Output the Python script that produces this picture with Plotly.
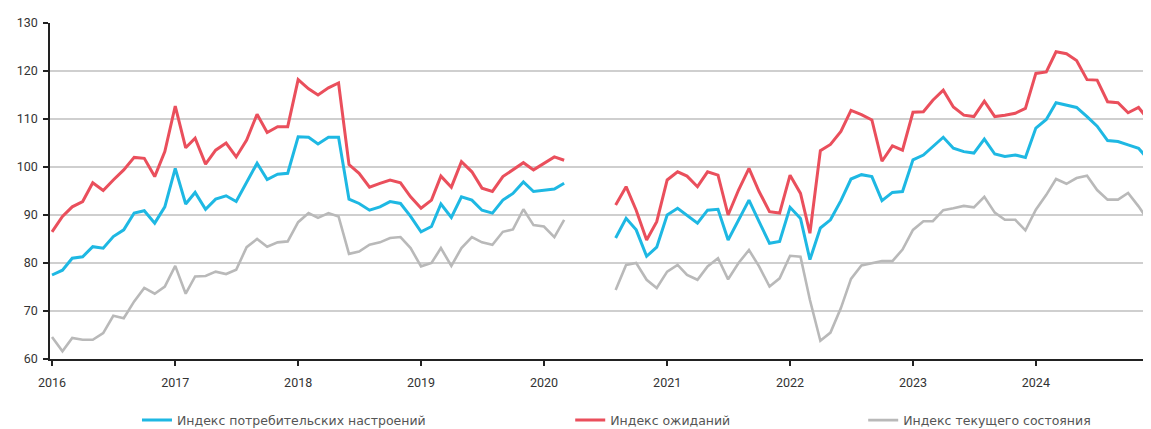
import pandas as pd
import plotly.graph_objects as go

# Monthly observations Jan-2016 .. Dec-2024 (survey gap Apr-Jul 2020)
months = pd.date_range("2016-01-01", "2024-12-01", freq="MS")

sentiment = [
    77.5, 78.5, 81.0, 81.3, 83.4, 83.1, 85.5, 86.9, 90.4, 90.9, 88.3, 91.7,
    99.7, 92.3, 94.7, 91.2, 93.3, 94.0, 92.8, 96.7, 100.8, 97.4, 98.5, 98.7,
    106.3, 106.2, 104.8, 106.2, 106.2, 93.3, 92.4, 91.0, 91.7, 92.8, 92.4, 89.7,
    86.5, 87.6, 92.3, 89.5, 93.8, 93.1, 91.0, 90.4, 93.1, 94.5, 96.9, 94.9,
    95.2, 95.4, 96.6, None, None, None, None, 85.2, 89.3, 86.9, 81.4, 83.3,
    90.0, 91.4, 90.0, 88.3, 91.0, 91.2, 84.8, 89.0, 93.1, 88.6, 84.1, 84.5,
    91.6, 89.3, 80.7, 87.3, 89.0, 93.0, 97.5, 98.4, 98.0, 93.0, 94.7, 94.9,
    101.5, 102.5, 104.2, 106.2, 103.9, 103.2, 102.9, 105.8, 102.7, 102.2, 102.5, 102.0,
    108.1, 109.9, 113.4, 112.9, 112.4, 110.5, 108.5, 105.5, 105.3, 104.6, 103.9, 101.5,
]

expectations = [
    86.5, 89.7, 91.7, 92.8, 96.7, 95.1, 97.3, 99.4, 102.0, 101.8, 98.0, 103.2,
    112.7, 104.0, 106.0, 100.6, 103.5, 105.0, 102.1, 105.6, 111.0, 107.2, 108.4, 108.4,
    118.2, 116.3, 115.0, 116.5, 117.5, 100.5, 98.7, 95.8, 96.6, 97.3, 96.7, 93.8,
    91.4, 93.1, 98.1, 95.8, 101.1, 99.0, 95.6, 94.9, 98.0, 99.4, 100.9, 99.4,
    100.8, 102.1, 101.4, None, None, None, None, 92.1, 95.9, 91.0, 84.8, 88.6,
    97.3, 99.0, 98.1, 95.9, 99.0, 98.3, 90.0, 95.2, 99.7, 94.9, 90.7, 90.4,
    98.3, 94.5, 86.2, 103.4, 104.7, 107.4, 111.8, 110.9, 109.8, 101.2, 104.4, 103.5,
    111.4, 111.5, 113.9, 116.0, 112.5, 110.8, 110.5, 113.7, 110.5, 110.8, 111.2, 112.2,
    119.5, 119.8, 124.0, 123.6, 122.2, 118.2, 118.1, 113.6, 113.4, 111.3, 112.4, 109.8,
]

current = [
    64.6, 61.6, 64.4, 64.0, 64.0, 65.4, 69.0, 68.5, 72.0, 74.8, 73.6, 75.1,
    79.4, 73.6, 77.2, 77.3, 78.2, 77.7, 78.6, 83.3, 85.0, 83.4, 84.3, 84.5,
    88.5, 90.4, 89.4, 90.4, 89.7, 81.9, 82.4, 83.8, 84.3, 85.2, 85.4, 83.1,
    79.3, 80.0, 83.1, 79.4, 83.1, 85.4, 84.3, 83.8, 86.5, 87.0, 91.2, 87.9,
    87.6, 85.4, 89.0, None, None, None, None, 74.4, 79.6, 80.0, 76.5, 74.8,
    78.2, 79.6, 77.5, 76.5, 79.3, 81.0, 76.6, 80.0, 82.7, 79.3, 75.1, 76.8,
    81.5, 81.3, 72.3, 63.8, 65.5, 70.6, 76.7, 79.5, 80.0, 80.4, 80.4, 82.8,
    86.9, 88.7, 88.7, 91.0, 91.4, 91.9, 91.6, 93.8, 90.5, 89.0, 89.0, 86.8,
    91.1, 94.2, 97.5, 96.5, 97.7, 98.2, 95.2, 93.2, 93.2, 94.6, 91.8, 88.7,
]

series_names = [
    "Индекс потребительских настроений",
    "Индекс ожиданий",
    "Индекс текущего состояния",
]
year_ticks = [f"{y}-01-01" for y in range(2016, 2025)]
year_labels = [str(y) for y in range(2016, 2025)]
y_ticks = [60, 70, 80, 90, 100, 110, 120, 130]

FONT = "Roboto, Liberation Sans, Arial, sans-serif"
LEG_FONT = "DejaVu Sans, Liberation Sans, sans-serif"

fig = go.Figure()
fig.add_trace(go.Scatter(x=months, y=sentiment, name=series_names[0], mode="lines",
                         line=dict(color="#1EB8E3", width=3), connectgaps=False,
                         legend="legend"))
fig.add_trace(go.Scatter(x=months, y=expectations, name=series_names[1], mode="lines",
                         line=dict(color="#EA4F5C", width=3), connectgaps=False,
                         legend="legend2"))
fig.add_trace(go.Scatter(x=months, y=current, name=series_names[2], mode="lines",
                         line=dict(color="#B9B9B9", width=2.6), connectgaps=False,
                         legend="legend3"))

legend_common = dict(orientation="h", yanchor="middle", y=-0.183, xanchor="left",
                     font=dict(family=LEG_FONT, size=12.5, color="#555555"),
                     bgcolor="rgba(0,0,0,0)", itemwidth=30)

# page body has an 8px margin, so the figure is sized to fill the visible window
fig.update_layout(
    width=1143, height=421,
    margin=dict(l=42, r=0, t=15, b=70, autoexpand=False),
    paper_bgcolor="white", plot_bgcolor="white",
    font=dict(family=FONT, size=12, color="#333333"),
    showlegend=True,
    legend=dict(**legend_common, x=0.079),
    legend2=dict(**legend_common, x=0.4725),
    legend3=dict(**legend_common, x=0.7386),
    xaxis=dict(
        range=["2015-12-26", "2024-12-08"], automargin=False,
        tickvals=year_ticks, ticktext=year_labels,
        showgrid=False, zeroline=False,
        showline=True, linecolor="#222222", linewidth=1.5,
        ticks="outside", ticklen=5, tickcolor="#222222", tickwidth=1.5,
        ticklabelstandoff=6,
        tickfont=dict(family=FONT, size=12.5, color="#333333"),
    ),
    yaxis=dict(
        range=[60, 130], tickvals=y_ticks, automargin=False,
        showgrid=True, gridcolor="#CFCFCF", gridwidth=1.5,
        zeroline=False,
        showline=True, linecolor="#222222", linewidth=1.5,
        ticks="outside", ticklen=5, tickcolor="#222222", tickwidth=1.5,
        ticklabelstandoff=3,
        tickfont=dict(family=FONT, size=12.5, color="#333333"),
    ),
)

fig.write_html("out.html")
